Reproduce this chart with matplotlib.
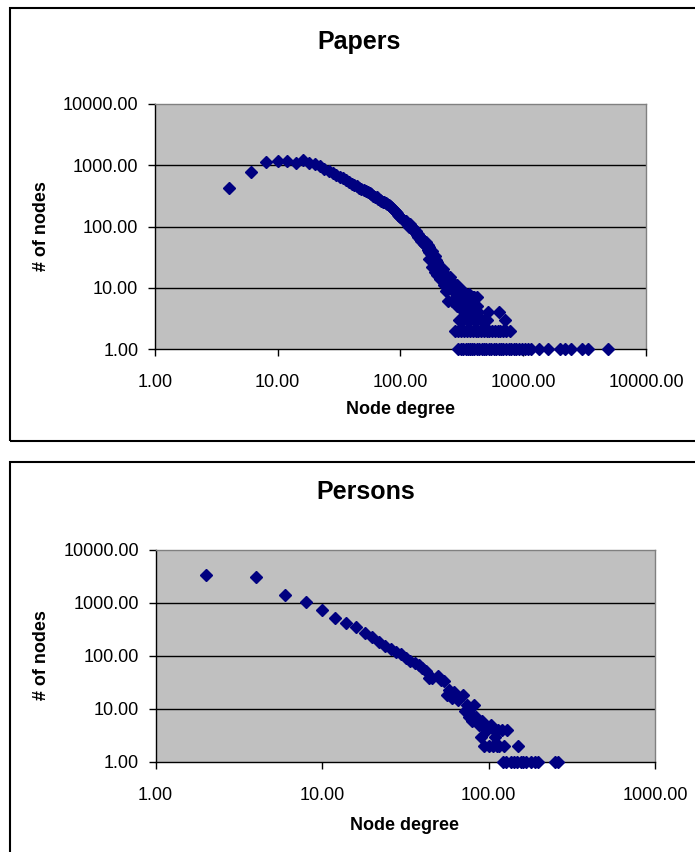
import matplotlib.pyplot as plt
from matplotlib.patches import Rectangle

plt.rcParams["font.family"] = ["Liberation Sans", "DejaVu Sans"]

# ---- Papers: degree distribution (main band) ----
papers_deg = [4, 6, 8, 10, 12, 14, 16, 18, 20, 22, 24, 26, 28, 30, 32, 34, 36, 38,
              40, 42, 44, 46, 48, 50, 52, 54, 56, 58, 60, 62, 64, 66, 68, 70, 72,
              74, 76, 78, 80, 82, 84, 86, 88, 90, 92, 94, 96, 98, 100, 104, 108,
              112, 116, 120, 124, 128, 132, 136, 140, 144, 148, 152, 156, 160, 164,
              168, 172, 176, 180, 184, 188, 192, 196, 200, 206, 212, 218, 224, 230,
              236, 242, 248, 254, 260, 266, 272, 278, 284, 290, 296, 302, 310, 320,
              330, 340, 350, 360]
papers_cnt = [430, 790, 1110, 1170, 1170, 1090, 1210, 1090, 1040, 960, 880, 800,
              740, 700, 650, 610, 570, 540, 500, 480, 455, 430, 410, 395, 380, 360,
              350, 335, 320, 305, 300, 285, 275, 265, 255, 250, 240, 230, 225, 215,
              205, 200, 185, 180, 170, 165, 155, 150, 142, 130, 122, 112, 105, 98,
              92, 86, 80, 72, 68, 62, 58, 55, 52, 49, 46, 42, 39, 36, 31, 27, 25,
              23, 22, 21, 19, 18, 16, 15, 14, 13, 12, 11, 12, 10, 10, 9, 10, 8, 9,
              7, 8, 7, 6, 7, 6, 5, 6]

# extra scatter inside the band
papers_band_deg = [120, 130, 140, 150, 160, 170, 180, 190, 200, 210, 220, 230, 240,
                   253, 200, 210, 190, 180, 170, 225, 235, 260, 275, 290, 305, 320,
                   400, 421, 360, 245, 265, 300, 110, 118, 126, 134, 142, 146, 154,
                   158, 166, 174, 182, 186, 194, 198, 204, 215, 222, 228, 238, 246,
                   250, 256, 262, 270, 280, 286, 296, 310, 318, 330, 340, 350, 375, 390]
papers_band_cnt = [110, 90, 75, 62, 55, 47, 40, 33, 26, 22, 20, 17, 15,
                   15, 16, 14, 18, 22, 30, 11, 9, 13, 11, 11, 8, 9,
                   7, 7, 8, 6, 6, 6, 125, 100, 95, 85, 70, 66, 58,
                   50, 50, 42, 36, 30, 28, 24, 22, 19, 17, 16, 14, 13,
                   12, 10, 11, 12, 10, 9, 10, 8, 7, 8, 7, 7, 6, 7]

# tail rows of small counts
papers_c1 = [294, 310, 325, 340, 355, 370, 385, 400, 420, 440, 460, 480, 500, 525,
             550, 575, 600, 630, 660, 690, 720, 760, 800, 840, 880, 930, 980, 1030,
             1090, 1160, 1350, 1580, 2000, 2200, 2450, 3000, 3400, 4900]
papers_c2 = [280, 295, 310, 330, 350, 370, 390, 410, 430, 455, 480, 505, 530, 560,
             590, 620, 650, 690, 730, 780]
papers_c3 = [300, 320, 345, 370, 395, 420, 450, 480, 510, 710]
papers_c4 = [330, 350, 375, 400, 430, 520, 640]
papers_c5 = [290, 305, 320, 340, 360, 380, 421]

# ---- Persons ----
persons_deg = [2, 4, 6, 8, 10, 12, 14, 16, 18, 20, 22, 24, 26, 28, 30, 32, 34, 36,
               38, 40, 42, 44, 46, 50, 52, 54, 56, 58, 60, 62, 64, 66, 70, 72, 74,
               76, 78, 80, 82, 84, 86, 88, 90, 92, 90, 94, 98, 100, 104, 106, 108,
               110, 112, 114, 116, 120, 124, 130, 150]
persons_cnt = [3310, 3000, 1400, 1040, 730, 515, 415, 345, 268, 229, 179, 155, 134,
               117, 107, 92, 80, 72, 67, 58, 52, 38, 38, 42, 35, 34, 18, 23, 16, 21,
               17, 15, 18, 9, 12, 7, 8, 6, 12, 7, 6, 5, 5, 6, 3, 2, 4, 2, 5, 2, 4,
               3, 2, 4, 2, 4, 2, 4, 2]
persons_c1 = [122, 128, 137, 142, 148, 156, 162, 169, 179, 190, 199, 250, 262]

W, H = 695, 852
NAVY = "#000080"


def box(l, t, r, b):
    return [l / W, 1 - b / H, (r - l) / W, (b - t) / H]


fig = plt.figure(figsize=(W / 100, H / 100), dpi=100)

# chart frames (right side / bottom run past the image)
for top, bot in [(8, 441.5), (461.5, 880)]:
    fig.patches.append(Rectangle((10 / W, 1 - bot / H), 720 / W, (bot - top) / H,
                                 transform=fig.transFigure, fill=False,
                                 edgecolor="black", linewidth=1.5))


def style_axes(ax, xmax):
    ax.set_xscale("log")
    ax.set_yscale("log")
    ax.set_xlim(1, xmax)
    ax.set_ylim(1, 10000)
    ax.set_facecolor("#c0c0c0")
    xt = [10 ** i for i in range(len(str(int(xmax))))]
    yt = [1, 10, 100, 1000, 10000]
    ax.set_xticks(xt)
    ax.set_yticks(yt)
    ax.minorticks_off()
    ax.set_xticklabels(["%.2f" % v for v in xt], fontsize=13)
    ax.set_yticklabels(["%.2f" % v for v in yt], fontsize=13)
    ax.tick_params(axis="y", direction="out", length=5, width=1, pad=7)
    ax.tick_params(axis="x", direction="out", length=5, width=1, pad=13)
    for v in yt[1:-1]:
        ax.axhline(v, color="black", linewidth=1, zorder=1)
    ax.spines["top"].set_color("#808080")
    ax.spines["right"].set_color("#808080")
    for s in ax.spines.values():
        s.set_linewidth(1)


mk = dict(marker="D", color=NAVY, markersize=6.5, linestyle="none", clip_on=False, zorder=3)

# Papers chart
ax1 = fig.add_axes(box(155, 104, 646, 349))
style_axes(ax1, 10000)
ax1.plot(papers_deg, papers_cnt, **mk)
ax1.plot(papers_band_deg, papers_band_cnt, **mk)
for cnt, row in [(1, papers_c1), (2, papers_c2), (3, papers_c3), (4, papers_c4), (5, papers_c5)]:
    ax1.plot(row, [cnt] * len(row), **mk)

# Persons chart
ax2 = fig.add_axes(box(155.5, 549.5, 655, 762))
style_axes(ax2, 1000)
ax2.plot(persons_deg, persons_cnt, **mk)
ax2.plot(persons_c1, [1] * len(persons_c1), **mk)

# titles and axis labels
fig.text(359 / W, 1 - 42 / H, "Papers", ha="center", va="center", fontsize=18, fontweight="bold")
fig.text(400 / W, 1 - 409 / H, "Node degree", ha="center", va="center", fontsize=13, fontweight="bold")
fig.text(42 / W, 1 - 226 / H, "# of nodes", ha="center", va="center", rotation=90, fontsize=13, fontweight="bold")

fig.text(366 / W, 1 - 492 / H, "Persons", ha="center", va="center", fontsize=18, fontweight="bold")
fig.text(405 / W, 1 - 826 / H, "Node degree", ha="center", va="center", fontsize=13, fontweight="bold")
fig.text(42 / W, 1 - 655 / H, "# of nodes", ha="center", va="center", rotation=90, fontsize=13, fontweight="bold")

fig.savefig("out.png", dpi=100)
